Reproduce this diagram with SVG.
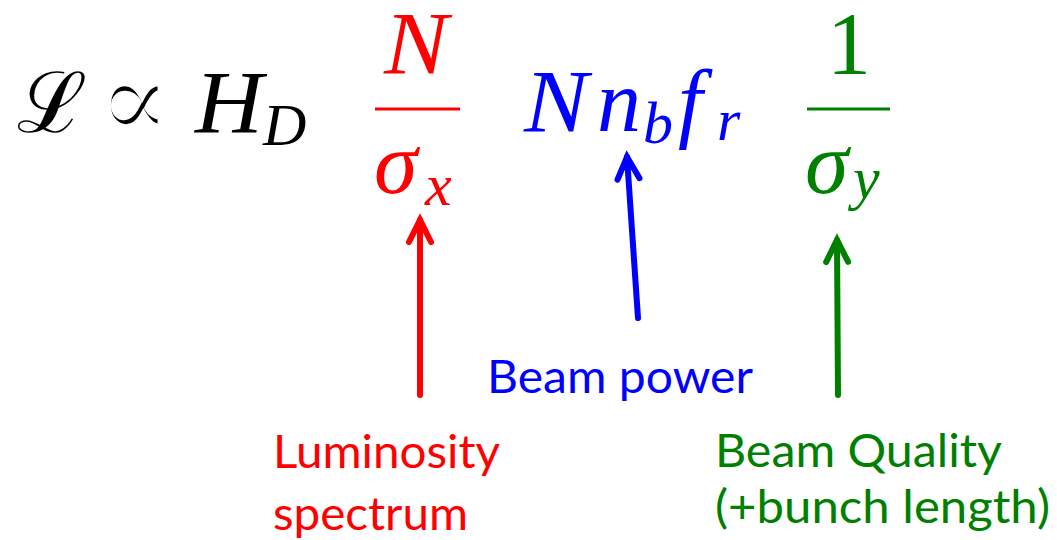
<svg xmlns="http://www.w3.org/2000/svg" width="1057" height="540" viewBox="0 0 1057 540">
<style>
.m{font-family:"Liberation Serif","Times New Roman",serif;font-style:italic;font-size:88px}
.s{font-family:"Liberation Serif","Times New Roman",serif;font-style:italic;font-size:60px}
.u{font-family:"Liberation Serif","Times New Roman",serif;font-size:88px}
.lab{font-family:Lato,"Open Sans",sans-serif;font-size:46px}
.red{fill:#FF0000}.blue{fill:#0000FF}.green{fill:#008000}
.conn{fill:none;stroke-width:6;stroke-linecap:round}
</style>
<defs>
<marker id="hr" markerUnits="userSpaceOnUse" markerWidth="40" markerHeight="40" refX="30" refY="20" orient="auto" viewBox="0 0 40 40"><path d="M8 9 L30 20 L8 31" fill="none" stroke="#FF0000" stroke-width="6" stroke-linecap="round" stroke-linejoin="miter"/></marker>
<marker id="hb" markerUnits="userSpaceOnUse" markerWidth="40" markerHeight="40" refX="30" refY="20" orient="auto" viewBox="0 0 40 40"><path d="M8 9 L30 20 L8 31" fill="none" stroke="#0000FF" stroke-width="6" stroke-linecap="round" stroke-linejoin="miter"/></marker>
<marker id="hg" markerUnits="userSpaceOnUse" markerWidth="40" markerHeight="40" refX="30" refY="20" orient="auto" viewBox="0 0 40 40"><path d="M8 9 L30 20 L8 31" fill="none" stroke="#008000" stroke-width="6" stroke-linecap="round" stroke-linejoin="miter"/></marker>
</defs>
<rect width="1057" height="540" fill="#FFFFFF"/>
<g id="formula-lhs">
<text x="17" y="132" font-family="DejaVu Serif,serif" font-size="84" fill="#000">ℒ</text>
<text x="97" y="138" font-family="Liberation Serif,DejaVu Serif,serif" font-size="110" fill="#000" stroke="#FFFFFF" stroke-width="4">∝</text>
<text class="m" x="195" y="132" fill="#000" textLength="68" lengthAdjust="spacingAndGlyphs">H</text>
<text class="s" x="263" y="145" fill="#000">D</text>
</g>
<g id="term-red" class="red">
<text class="m" x="384" y="73" textLength="64" lengthAdjust="spacingAndGlyphs">N</text>
<rect x="375" y="107.500" width="85" height="3"/>
<text class="m" x="374" y="193">σ</text>
<text class="s" x="425" y="205">x</text>
</g>
<g id="term-blue" class="blue">
<text class="m" x="524" y="131" textLength="64" lengthAdjust="spacingAndGlyphs">N</text>
<text class="m" x="597" y="131">n</text>
<text class="s" x="643" y="143">b</text>
<text class="m" x="678" y="131">f</text>
<text class="s" x="717" y="140">r</text>
</g>
<g id="term-green" class="green">
<text class="u" x="827" y="73">1</text>
<rect x="807" y="107.500" width="83" height="3"/>
<text class="m" x="805" y="193">σ</text>
<text class="s" x="853" y="198">y</text>
</g>
<g id="connectors">
<line class="conn" x1="420" y1="395" x2="420" y2="220" stroke="#FF0000" marker-end="url(#hr)"/>
<line class="conn" x1="638" y1="318" x2="627" y2="157" stroke="#0000FF" marker-end="url(#hb)"/>
<line class="conn" x1="838" y1="395" x2="837" y2="240" stroke="#008000" marker-end="url(#hg)"/>
</g>
<g id="label-luminosity" class="red">
<text class="lab" x="273" y="468" textLength="227" lengthAdjust="spacingAndGlyphs">Luminosity</text>
<text class="lab" x="273" y="530" textLength="195" lengthAdjust="spacingAndGlyphs">spectrum</text>
</g>
<g id="label-power" class="blue">
<text class="lab" x="487" y="393" textLength="266" lengthAdjust="spacingAndGlyphs">Beam power</text>
</g>
<g id="label-quality" class="green">
<text class="lab" x="715" y="467" textLength="287" lengthAdjust="spacingAndGlyphs">Beam Quality</text>
<text class="lab" x="715" y="523" textLength="335" lengthAdjust="spacingAndGlyphs">(+bunch length)</text>
</g>
</svg>
